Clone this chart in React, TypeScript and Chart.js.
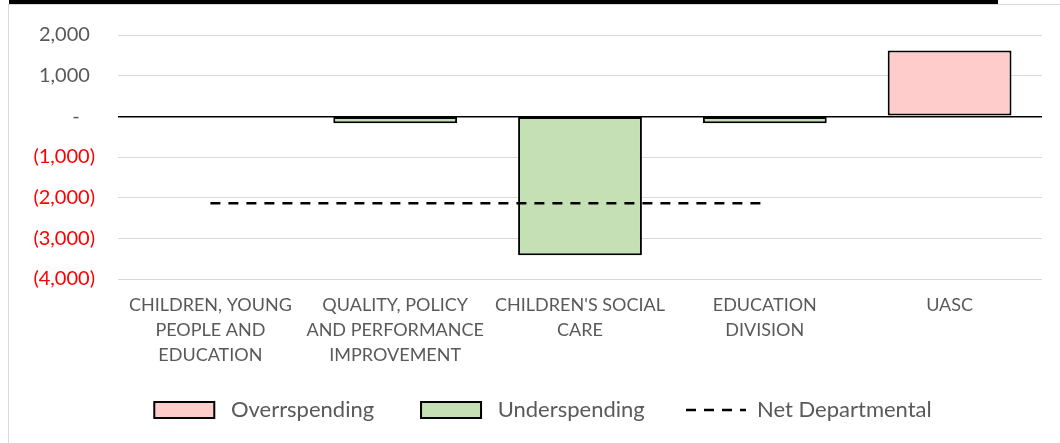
import React, { useEffect, useRef } from "react";
import { Chart, registerables } from "chart.js";

Chart.register(...registerables);

const categories: string[][] = [
  ["CHILDREN, YOUNG", "PEOPLE AND", "EDUCATION"],
  ["QUALITY, POLICY", "AND PERFORMANCE", "IMPROVEMENT"],
  ["CHILDREN'S SOCIAL", "CARE"],
  ["EDUCATION", "DIVISION"],
  ["UASC"],
];
const overspending: (number | null)[] = [null, null, null, null, 1620];
const underspending: (number | null)[] = [null, -170, -3415, -170, null];
const netDepartmental: (number | null)[] = [-2135, -2135, -2135, -2135, null];
const yTicks: number[] = [2000, 1000, 0, -1000, -2000, -3000, -4000];

const FONT = "Lato";

function fmt(v: number): string {
  if (v === 0) return "-   ";
  const s = Math.abs(v).toLocaleString("en-US");
  return v < 0 ? `(${s})` : `${s} `;
}

const legendShift = {
  id: "legendShift",
  afterLayout(chart: any) {
    if (chart.legend) {
      chart.legend.left += 22;
      chart.legend.right += 22;
    }
  },
};

export default function App() {
  const ref = useRef<HTMLCanvasElement | null>(null);

  useEffect(() => {
    if (!ref.current) return;
    const chart = new Chart(ref.current, {
      type: "bar",
      data: {
        labels: categories,
        datasets: [
          {
            label: "Overrspending",
            data: overspending,
            backgroundColor: "#FFCCCC",
            borderColor: "#000000",
            borderWidth: 2,
            borderSkipped: false,
            order: 2,
          },
          {
            label: "Underspending",
            data: underspending,
            backgroundColor: "#C5E0B4",
            borderColor: "#000000",
            borderWidth: 2,
            borderSkipped: false,
            order: 1,
          },
          {
            type: "line",
            label: "Net Departmental",
            data: netDepartmental,
            borderColor: "#000000",
            backgroundColor: "#000000",
            borderWidth: 2.5,
            borderDash: [10, 8],
            pointRadius: 0,
            fill: false,
            order: 0,
          } as any,
        ],
      },
      plugins: [legendShift],
      options: {
        responsive: false,
        animation: false,
        layout: { padding: { left: 0, right: 18, top: 34, bottom: 12 } },
        datasets: {
          bar: { categoryPercentage: 1, barPercentage: 0.67 },
        } as any,
        scales: {
          x: {
            stacked: true,
            grid: { display: false, drawTicks: false },
            border: { display: false },
            ticks: {
              color: "#595959",
              font: { family: FONT, size: 18, lineHeight: 1.39 },
              padding: 14,
              maxRotation: 0,
              autoSkip: false,
            },
            afterFit: (s: any) => {
              s.height = 90;
            },
          },
          y: {
            stacked: false,
            min: -4000,
            max: 2000,
            afterBuildTicks: (s: any) => {
              s.ticks = yTicks.map((v) => ({ value: v }));
            },
            afterFit: (s: any) => {
              s.width = 118;
            },
            grid: {
              color: (c: any) => (c.tick && c.tick.value === 0 ? "#000000" : "#d9d9d9"),
              lineWidth: (c: any) => (c.tick && c.tick.value === 0 ? 1.5 : 1),
              drawTicks: false,
            },
            border: { display: false },
            ticks: {
              padding: 23,
              color: (c: any) => (c.tick && c.tick.value < 0 ? "#FF0000" : "#595959"),
              font: { family: FONT, size: 20 },
              callback: (v: any) => fmt(Number(v)),
            },
          },
        },
        plugins: {
          title: { display: false },
          tooltip: { enabled: false },
          legend: {
            position: "bottom",
            labels: {
              usePointStyle: true,
              pointStyleWidth: 60,
              boxHeight: 16,
              padding: 30,
              color: "#595959",
              font: { family: FONT, size: 22 },
              sort: (a: any, b: any) => a.datasetIndex - b.datasetIndex,
              generateLabels: (ch: any) => {
                const items = Chart.defaults.plugins.legend.labels.generateLabels(ch);
                return items.map((it: any) => {
                  if (it.datasetIndex === 2) {
                    return {
                      ...it,
                      pointStyle: "line",
                      lineDash: [10, 8],
                      lineWidth: 2.5,
                      strokeStyle: "#000000",
                    };
                  }
                  const trail = it.datasetIndex === 0 ? "   " : "  ";
                  return {
                    ...it,
                    text: " " + it.text + trail,
                    pointStyle: "rect",
                    lineWidth: 2,
                    strokeStyle: "#000000",
                    lineDash: [],
                  };
                });
              },
            },
          },
        },
      },
    });
    return () => chart.destroy();
  }, []);

  return (
    <div
      style={{
        position: "absolute",
        left: 0,
        top: 0,
        width: 1060,
        height: 443,
        overflow: "hidden",
        background: "#ffffff",
      }}
    >
      <div
        style={{
          position: "absolute",
          left: 8,
          top: 4,
          width: 1200,
          height: 600,
          borderLeft: "1px solid #d9d9d9",
          borderTop: "1px solid #d9d9d9",
        }}
      />
      <div
        style={{
          position: "absolute",
          left: 9,
          top: 0,
          width: 989,
          height: 4,
          background: "#000000",
        }}
      />
      <canvas
        ref={ref}
        width={1060}
        height={443}
        style={{ position: "absolute", left: 0, top: 0, width: 1060, height: 443 }}
      />
    </div>
  );
}
